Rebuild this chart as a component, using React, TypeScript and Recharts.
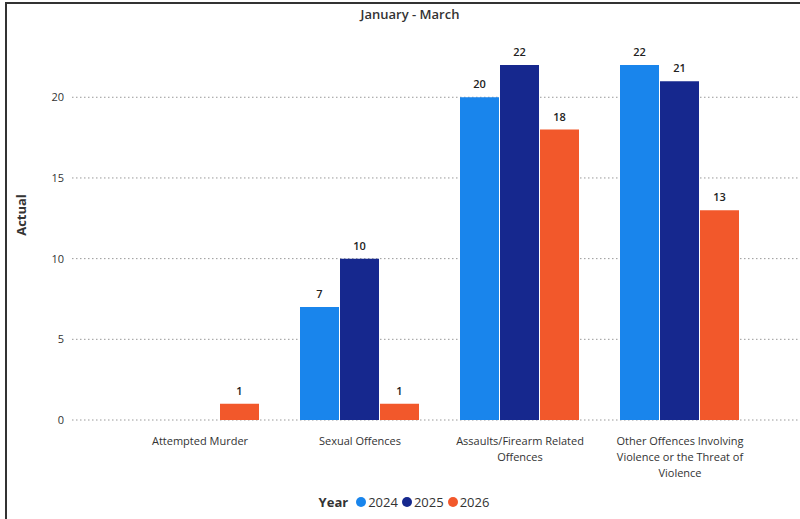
import React from "react";
import {
  BarChart,
  Bar,
  XAxis,
  YAxis,
  CartesianGrid,
  Legend,
  LabelList,
} from "recharts";

const categories = [
  "Attempted Murder",
  "Sexual Offences",
  "Assaults/Firearm Related Offences",
  "Other Offences Involving Violence or the Threat of Violence",
];
// how the category labels break onto lines under the axis
const categoryLines = [
  ["Attempted Murder"],
  ["Sexual Offences"],
  ["Assaults/Firearm Related", "Offences"],
  ["Other Offences Involving", "Violence or the Threat of", "Violence"],
];
const years2024 = [null, 7, 20, 22];
const years2025 = [null, 10, 22, 21];
const years2026 = [1, 1, 18, 13];
const yTicks = [0, 5, 10, 15, 20];

const seriesInfo = [
  { key: "y2024", name: "2024", color: "#1985EC" },
  { key: "y2025", name: "2025", color: "#16288E" },
  { key: "y2026", name: "2026", color: "#F2582B" },
];

const data = categories.map((c, i) => ({
  name: c,
  y2024: years2024[i],
  y2025: years2025[i],
  y2026: years2026[i],
}));

const FONT = "'Open Sans', 'Noto Sans', sans-serif";

function CategoryTick(props: any) {
  const { x, y, payload } = props;
  const lines = categoryLines[categories.indexOf(payload.value)] || [payload.value];
  return (
    <text
      x={x}
      y={y + 9}
      textAnchor="middle"
      fontSize={11}
      fontFamily={FONT}
      fill="#333"
    >
      {lines.map((l, i) => (
        <tspan key={i} x={x} dy={i === 0 ? "0.71em" : 16}>
          {l}
        </tspan>
      ))}
    </text>
  );
}

function YearLegend() {
  return (
    <div
      style={{
        display: "flex",
        justifyContent: "center",
        alignItems: "center",
        fontFamily: FONT,
        fontSize: 13,
        color: "#333",
      }}
    >
      <span style={{ fontWeight: 700, marginRight: 8 }}>Year</span>
      {seriesInfo.map((s) => (
        <span key={s.key} style={{ display: "flex", alignItems: "center", marginRight: 4 }}>
          <span
            style={{
              width: 10,
              height: 10,
              borderRadius: 5,
              background: s.color,
              display: "inline-block",
              marginRight: 2,
            }}
          />
          {s.name}
        </span>
      ))}
    </div>
  );
}

const labelFmt = (v: any) => (v == null || v === 0 ? "" : v);

export default function App() {
  return (
    <div
      style={{
        position: "absolute",
        left: 0,
        top: 0,
        width: 800,
        height: 519,
        background: "#fff",
        overflow: "hidden",
      }}
    >
      <div
        style={{
          position: "absolute",
          left: 5,
          top: 2,
          width: 800,
          height: 519,
          borderTop: "2px solid #333",
          borderLeft: "2px solid #333",
        }}
      />
      <div
        style={{
          position: "absolute",
          left: 0,
          top: 5,
          width: 820,
          textAlign: "center",
          fontFamily: FONT,
          fontSize: 13,
          fontWeight: 600,
          color: "#333",
        }}
      >
        January - March
      </div>
      <div
        style={{
          position: "absolute",
          left: 0,
          top: 206,
          transform: "rotate(-90deg)",
          transformOrigin: "center",
          fontFamily: FONT,
          fontSize: 13,
          fontWeight: 700,
          color: "#333",
        }}
      >
        Actual
      </div>
      <BarChart
        width={800}
        height={519}
        data={data}
        margin={{ top: 65, right: 0, left: 12, bottom: 6 }}
        barCategoryGap="12.5%"
        barGap={1}
        style={{ position: "absolute", left: 0, top: 0 }}
      >
        <CartesianGrid
          vertical={false}
          horizontalValues={yTicks}
          stroke="#999"
          strokeDasharray="1.5 2.5"
        />
        <XAxis
          dataKey="name"
          axisLine={false}
          tickLine={false}
          interval={0}
          height={73}
          padding={{ left: 48, right: 40 }}
          tick={<CategoryTick />}
        />
        <YAxis
          width={60}
          domain={[0, 22]}
          ticks={yTicks}
          axisLine={false}
          tickLine={false}
          tick={{ fontSize: 11, fill: "#333", fontFamily: FONT }}
        />
        <Legend
          verticalAlign="bottom"
          height={20}
          content={() => <YearLegend />}
        />
        {seriesInfo.map((s) => (
          <Bar
            key={s.key}
            dataKey={s.key}
            name={s.name}
            fill={s.color}
            isAnimationActive={false}
          >
            <LabelList
              dataKey={s.key}
              position="top"
              offset={9}
              formatter={labelFmt}
              style={{ fontSize: 11, fill: "#222", fontFamily: FONT, fontWeight: 600 }}
            />
          </Bar>
        ))}
      </BarChart>
    </div>
  );
}
